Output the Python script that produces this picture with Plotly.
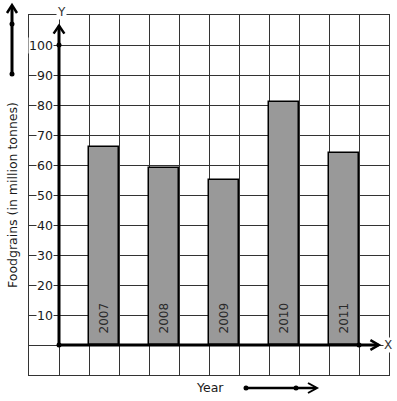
import plotly.graph_objects as go

# ---- data ----
years = ["2007", "2008", "2009", "2010", "2011"]
foodgrains = [66, 59, 55, 81, 64]
y_ticks = [10, 20, 30, 40, 50, 60, 70, 80, 90, 100]
y_title = "Foodgrains (in million tonnes)"
x_title = "Year"

# ---- geometry helpers (figure pixels -> paper coords) ----
W, H = 397, 401
L, R, T, B = 29, 389, 15, 375
def px(x):
    return (x - L) / (R - L)
def py(y):
    return (B - y) / (B - T)

FONT = "DejaVu Sans"
TXT = "#1a1a1a"
GRID = "#333333"

# bar positions: every other grid cell, starting one cell right of the Y axis
xpos = [2 * i + 1.5 for i in range(len(years))]

fig = go.Figure()
fig.add_trace(go.Bar(
    x=xpos, y=foodgrains, width=1,
    marker=dict(color="#999999", line=dict(color="black", width=1.5)),
    hoverinfo="skip", showlegend=False,
))

shapes = []
# Y axis
shapes.append(dict(type="line", xref="x", yref="y", x0=0, y0=0, x1=0, y1=106.4,
                   line=dict(color="black", width=3)))
shapes.append(dict(type="path", xref="x", yref="y",
                   path="M -0.18 103.8 L 0 106.4 L 0.18 103.8",
                   line=dict(color="black", width=2.5)))
# X axis
shapes.append(dict(type="line", xref="x", yref="y", x0=0, y0=0, x1=10.65, y1=0,
                   line=dict(color="black", width=3)))
shapes.append(dict(type="path", xref="x", yref="y",
                   path="M 10.38 1.6 L 10.66 0 L 10.38 -1.6",
                   line=dict(color="black", width=2.5)))
# dots on axes
for (dx, dy) in [(0, 0), (0, 100), (10, 0)]:
    shapes.append(dict(type="circle", xref="x", yref="y", xsizemode="pixel", ysizemode="pixel",
                       xanchor=dx, yanchor=dy, x0=-2.5, x1=2.5, y0=-2.5, y1=2.5,
                       fillcolor="black", line=dict(color="black", width=0)))

# left decorative arrow
shapes.append(dict(type="line", xref="paper", yref="paper", x0=px(12), y0=py(74), x1=px(12), y1=py(6),
                   line=dict(color="black", width=3)))
shapes.append(dict(type="path", xref="paper", yref="paper",
                   path=f"M {px(7)} {py(13)} L {px(12)} {py(5)} L {px(17)} {py(13)}",
                   line=dict(color="black", width=2.5)))
for yy in [24, 74]:
    shapes.append(dict(type="circle", xref="paper", yref="paper",
                       x0=px(9.5), x1=px(14.5), y0=py(yy - 2.5), y1=py(yy + 2.5),
                       fillcolor="black", line=dict(width=0)))
# bottom decorative arrow
shapes.append(dict(type="line", xref="paper", yref="paper", x0=px(246), y0=py(388), x1=px(316), y1=py(388),
                   line=dict(color="black", width=2.5)))
shapes.append(dict(type="path", xref="paper", yref="paper",
                   path=f"M {px(308)} {py(383)} L {px(317)} {py(388)} L {px(308)} {py(393)}",
                   line=dict(color="black", width=2)))
for xx in [246, 296]:
    shapes.append(dict(type="circle", xref="paper", yref="paper",
                       x0=px(xx - 2.5), x1=px(xx + 2.5), y0=py(385.5), y1=py(390.5),
                       fillcolor="black", line=dict(width=0)))

annotations = []
for v in y_ticks:
    annotations.append(dict(x=0, y=v, xref="x", yref="y", text=str(v), showarrow=False,
                            xanchor="right", yanchor="middle", xshift=-5,
                            bgcolor="white", borderpad=0,
                            font=dict(family=FONT, size=12.5, color=TXT)))
for xc, yr in zip(xpos, years):
    annotations.append(dict(x=xc, y=0, xref="x", yref="y", text=yr, showarrow=False,
                            textangle=-90, yanchor="bottom", xanchor="center", yshift=9, xshift=-1,
                            font=dict(family=FONT, size=12, color="#2a2a2a")))
annotations.append(dict(x=0, y=py(12), xref="x", yref="paper", text="Y", showarrow=False,
                        xanchor="center", yanchor="middle",
                        xshift=2, bgcolor="white", borderpad=0,
                        font=dict(family=FONT, size=12, color="#333333")))
annotations.append(dict(x=10.97, y=0, xref="x", yref="y", text="X", showarrow=False,
                        xanchor="center", yanchor="middle",
                        bgcolor="white", borderpad=0,
                        font=dict(family=FONT, size=12, color="#333333")))
annotations.append(dict(x=px(210), y=py(387), xref="paper", yref="paper", text=x_title,
                        xanchor="center", yanchor="middle",
                        showarrow=False, font=dict(family=FONT, size=12.5, color=TXT)))
annotations.append(dict(x=px(12), y=py(195), xref="paper", yref="paper", text=y_title,
                        xanchor="center", yanchor="middle",
                        showarrow=False, textangle=-90,
                        font=dict(family=FONT, size=12.5, color=TXT)))

fig.update_layout(
    width=W, height=H,
    margin=dict(l=L, r=W - R, t=T, b=H - B, pad=0),
    paper_bgcolor="white", plot_bgcolor="white",
    shapes=shapes, annotations=annotations,
    bargap=0,
    xaxis=dict(range=[-1, 11], tick0=-1, dtick=1, showgrid=True, gridcolor=GRID, gridwidth=1,
               showticklabels=False, ticks="", zeroline=False,
               showline=True, linecolor=GRID, linewidth=1, mirror=True, fixedrange=True),
    yaxis=dict(range=[-10, 110], tick0=-10, dtick=10, showgrid=True, gridcolor=GRID, gridwidth=1,
               showticklabels=False, ticks="", zeroline=False,
               showline=True, linecolor=GRID, linewidth=1, mirror=True, fixedrange=True),
)

fig.write_html("out.html", config=dict(displayModeBar=False),
               post_script="document.body.style.margin='0px';document.body.style.overflow='hidden';")
